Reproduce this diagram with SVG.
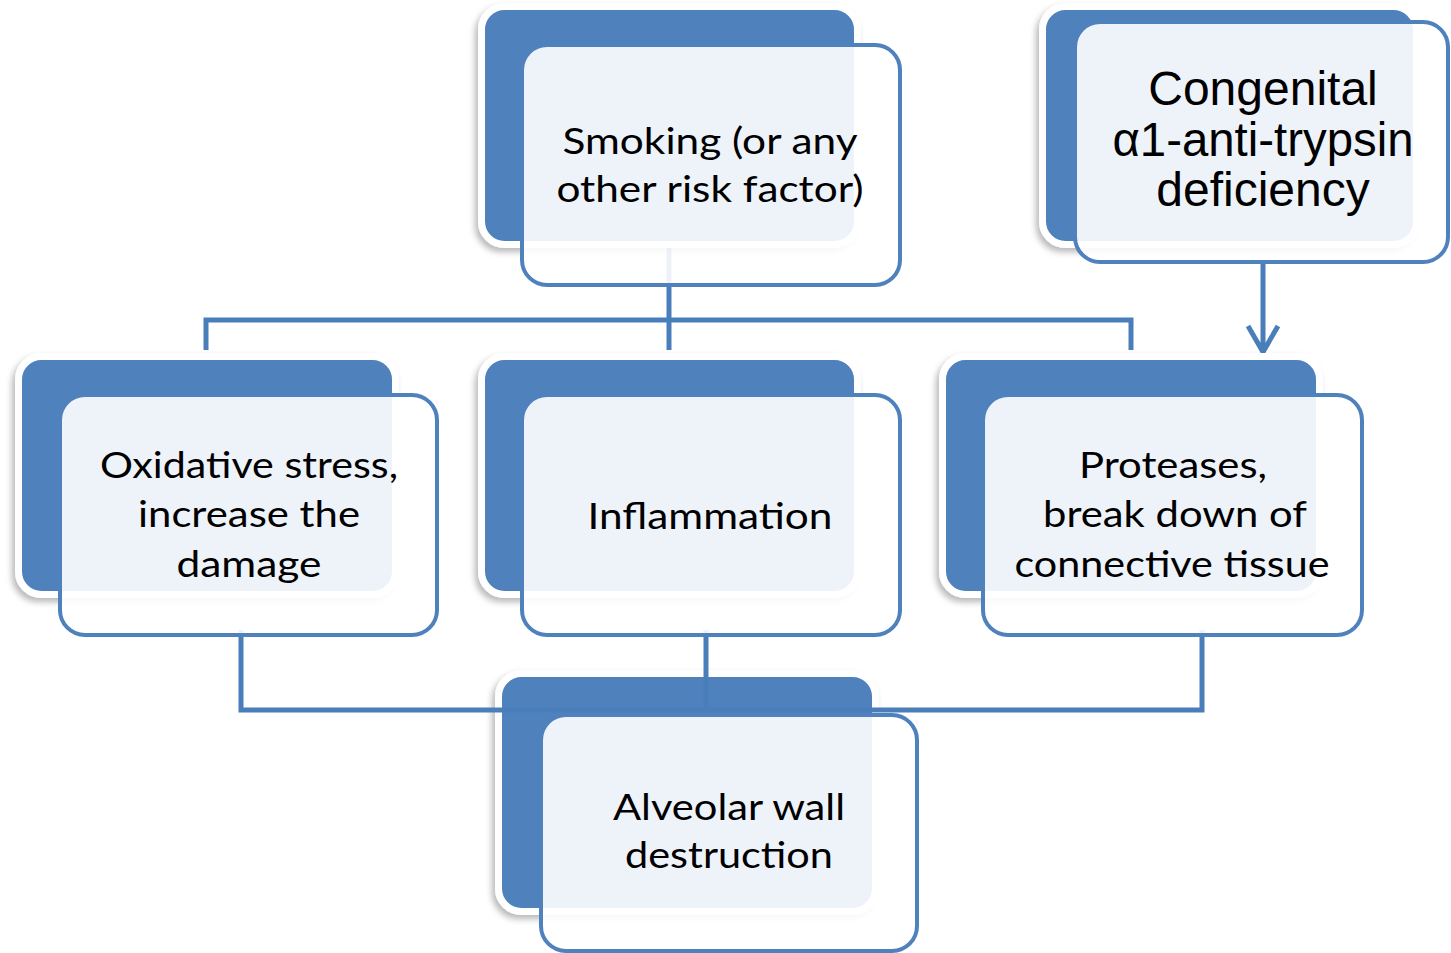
<svg xmlns="http://www.w3.org/2000/svg" width="1451" height="953" viewBox="0 0 1451 953">
<defs>
<filter id="sh" x="-10%" y="-10%" width="120%" height="125%">
<feDropShadow dx="-3" dy="4" stdDeviation="3" flood-color="#000" flood-opacity="0.28"/>
</filter>
</defs>
<style>
.back{fill:#4F81BD;stroke:#fff;stroke-width:7;filter:url(#sh)}
.front{fill:#fff;fill-opacity:0.9;stroke:#4F81BD;stroke-width:4}
.t{font-family:Lato,"Open Sans",sans-serif;font-size:37px;fill:#000;text-anchor:middle}
.ta{font-family:"Liberation Sans",Arial,sans-serif;font-size:48px;fill:#000;text-anchor:middle}
.c{fill:none;stroke:#4A7EBB;stroke-width:5}
</style>
<rect width="1451" height="953" fill="#fff"/>
<g id="alveolar">
<rect class="back" x="498.5" y="673.5" width="377" height="238" rx="23"/>
</g>
<g id="connectors">
<path class="c" d="M669 245V320M206 350V320H1131V350M669 320V350" stroke-width="4"/>
<path class="c" d="M241 630V710H1202V630M706 630V710"/>
<path class="c" d="M1263 262V352M1248 326L1263 352L1278 326"/>
</g>
<g id="alveolar-front">
<rect class="front" x="541" y="715" width="376" height="236" rx="25"/>
<text class="t"><tspan x="729" y="820" textLength="232" lengthAdjust="spacingAndGlyphs">Alveolar wall</tspan><tspan x="729" y="868" textLength="208" lengthAdjust="spacingAndGlyphs">destruction</tspan></text>
</g>
<g id="smoking">
<rect class="back" x="481.5" y="6.5" width="376" height="238" rx="23"/>
<rect class="front" x="522" y="45" width="378" height="240" rx="25"/>
<text class="t"><tspan x="710" y="154" textLength="295" lengthAdjust="spacingAndGlyphs">Smoking (or any</tspan><tspan x="710" y="202" textLength="307" lengthAdjust="spacingAndGlyphs">other risk factor)</tspan></text>
</g>
<g id="congenital">
<rect class="back" x="1042.5" y="6.5" width="374" height="238" rx="23"/>
<rect class="front" x="1075" y="22" width="373" height="240" rx="25"/>
<text class="ta"><tspan x="1263" y="105">Congenital</tspan><tspan x="1263" y="156" textLength="301" lengthAdjust="spacingAndGlyphs">α1-anti-trypsin</tspan><tspan x="1263" y="206">deficiency</tspan></text>
</g>
<g id="oxidative">
<rect class="back" x="18.5" y="356.5" width="377" height="238" rx="23"/>
<rect class="front" x="60" y="395" width="377" height="240" rx="25"/>
<text class="t"><tspan x="249" y="478" textLength="298" lengthAdjust="spacingAndGlyphs">Oxidative stress,</tspan><tspan x="249" y="527" textLength="222" lengthAdjust="spacingAndGlyphs">increase the</tspan><tspan x="249" y="577" textLength="145" lengthAdjust="spacingAndGlyphs">damage</tspan></text>
</g>
<g id="inflammation">
<rect class="back" x="481.5" y="356.5" width="376" height="238" rx="23"/>
<rect class="front" x="522" y="395" width="378" height="240" rx="25"/>
<text class="t"><tspan x="710" y="529" textLength="245" lengthAdjust="spacingAndGlyphs">Inflammation</tspan></text>
</g>
<g id="proteases">
<rect class="back" x="942.5" y="356.5" width="377" height="238" rx="23"/>
<rect class="front" x="983" y="395" width="379" height="240" rx="25"/>
<text class="t"><tspan x="1173" y="478" textLength="188" lengthAdjust="spacingAndGlyphs">Proteases,</tspan><tspan x="1175" y="527" textLength="264" lengthAdjust="spacingAndGlyphs">break down of</tspan><tspan x="1172" y="577" textLength="315" lengthAdjust="spacingAndGlyphs">connective tissue</tspan></text>
</g>
</svg>
